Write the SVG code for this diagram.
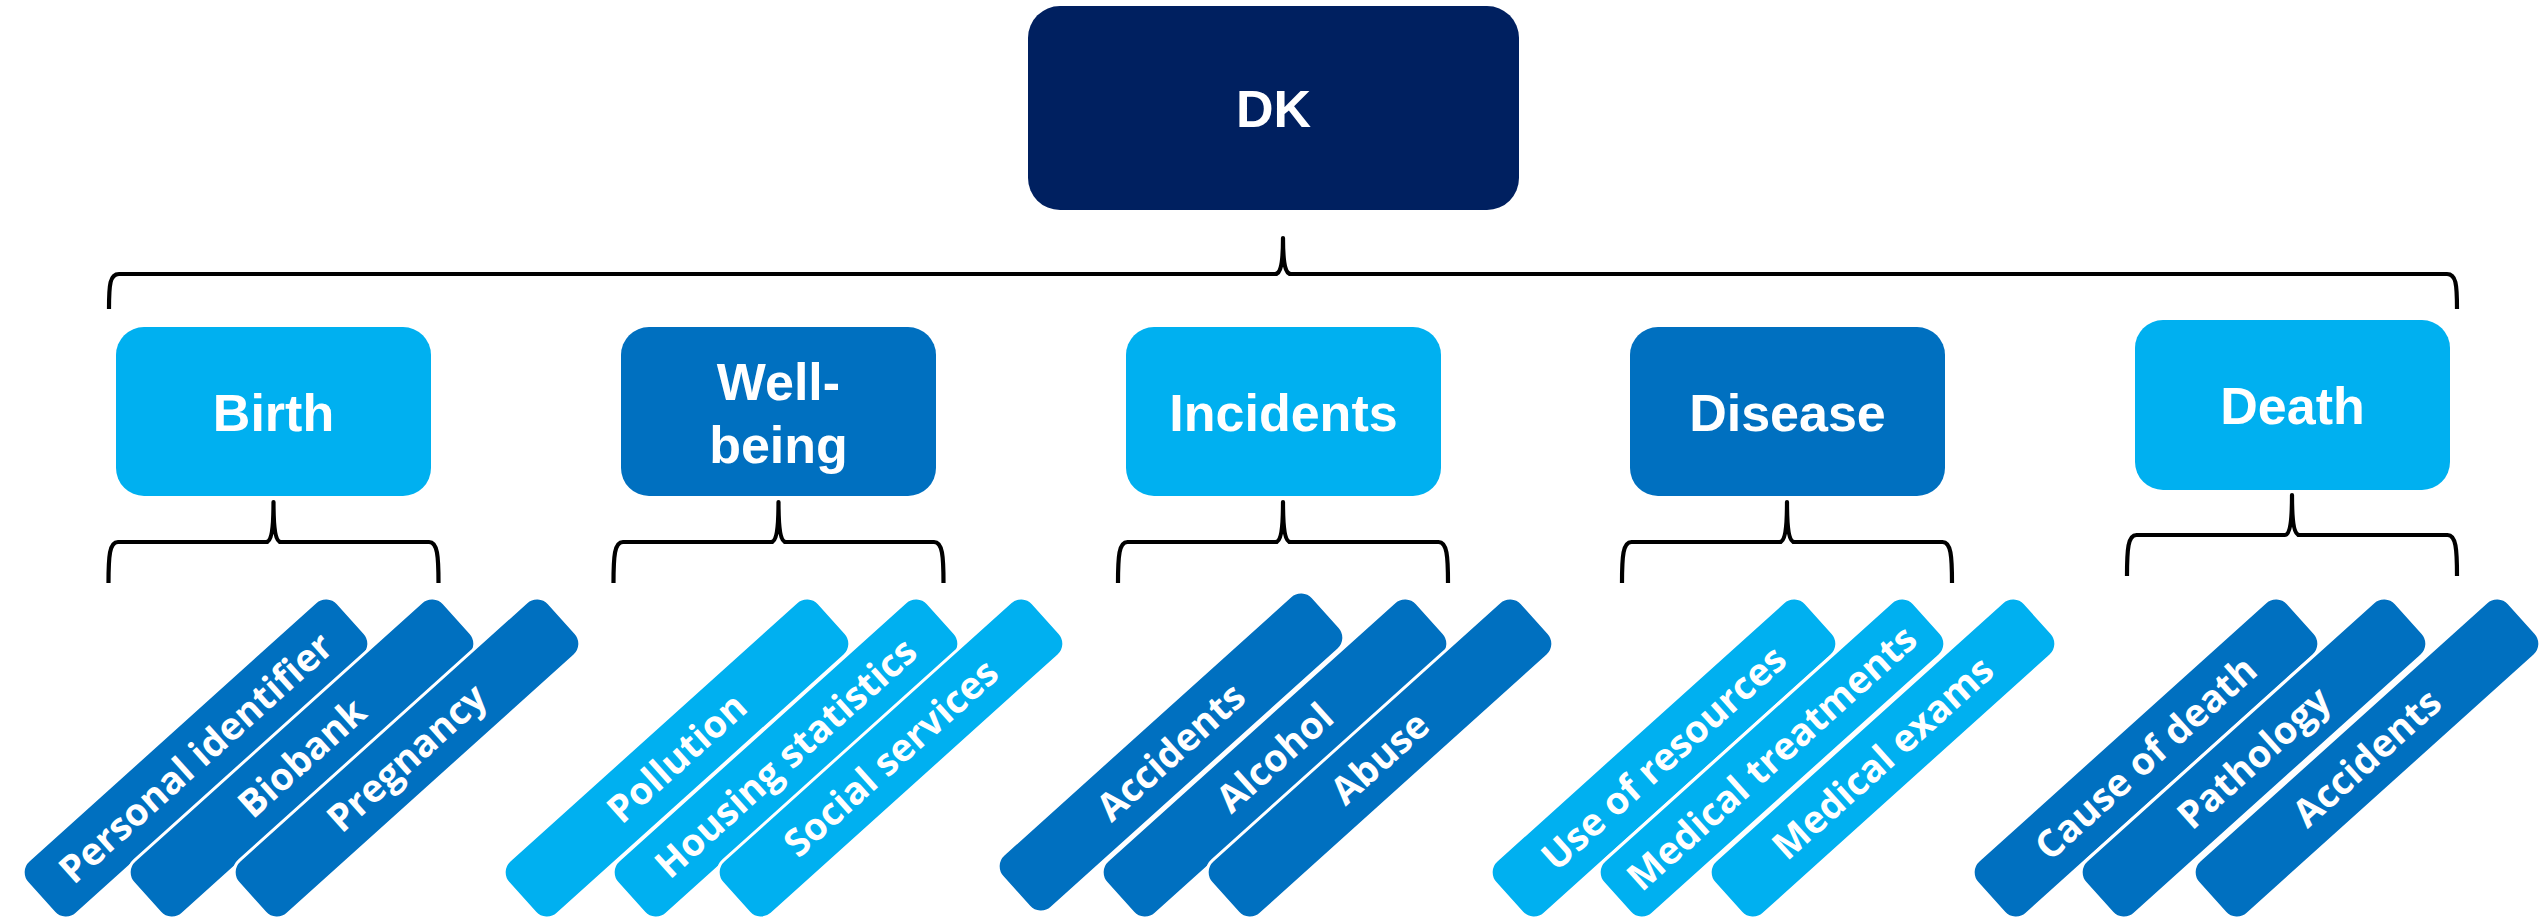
<svg xmlns="http://www.w3.org/2000/svg" width="2539" height="923" viewBox="0 0 2539 923">
<style>
.bg{fill:#FFFFFF}
.dark{fill:#002060}
.mid{fill:#0070C0}
.light{fill:#00B0F0}
.box-text{font-family:"Liberation Sans",Arial,sans-serif;font-weight:bold;font-size:52px;fill:#FFFFFF;text-anchor:middle}
.leaf{stroke:#FFFFFF;stroke-width:3}
.leaf-text{font-family:"Open Sans","DejaVu Sans",sans-serif;font-weight:bold;font-size:38px;fill:#FFFFFF;text-anchor:middle}
.brace{fill:none;stroke:#000000;stroke-width:4.2;stroke-linejoin:round;stroke-linecap:butt}
</style>
<defs>
<rect id="leafShape" x="-209" y="-36" width="418" height="72" rx="16" ry="16"/>
</defs>
<rect class="bg" x="0" y="0" width="2539" height="923"/>

<g id="connectors">
<path class="brace" d="M109,309 C109,284 110,274 119,274 L1275,274 C1281,274 1283,262 1283,238 C1283,262 1285,274 1291,274 L2447,274 C2456,274 2457,284 2457,309"/>
<path class="brace" d="M108.5,583 C108.5,556 109.5,542 118,542 L266,542 C271,542 273.5,530 273.5,502 C273.5,530 276,542 281,542 L429,542 C437.5,542 438.5,556 438.5,583"/>
<path class="brace" d="M613.5,583 C613.5,556 614.5,542 623,542 L771,542 C776,542 778.5,530 778.5,502 C778.5,530 781,542 786,542 L934,542 C942.5,542 943.5,556 943.5,583"/>
<path class="brace" d="M1118,583 C1118,556 1119,542 1127.5,542 L1275.5,542 C1280.5,542 1283,530 1283,502 C1283,530 1285.5,542 1290.5,542 L1438.5,542 C1447,542 1448,556 1448,583"/>
<path class="brace" d="M1622,583 C1622,556 1623,542 1631.5,542 L1779.5,542 C1784.5,542 1787,530 1787,502 C1787,530 1789.5,542 1794.5,542 L1942.5,542 C1951,542 1952,556 1952,583"/>
<path class="brace" d="M2127,576 C2127,549 2128,535 2136.5,535 L2284.5,535 C2289.5,535 2292,523 2292,495 C2292,523 2294.5,535 2299.5,535 L2447.5,535 C2456,535 2457,549 2457,576"/>
</g>

<g id="node-dk">
<rect class="dark" x="1028" y="6" width="491" height="204" rx="32" ry="32"/>
<text class="box-text" x="1273.5" y="127">DK</text>
</g>

<g id="node-birth">
<rect class="light" x="116" y="327" width="315" height="169" rx="28" ry="28"/>
<text class="box-text" x="273.5" y="431">Birth</text>
</g>
<g id="node-wellbeing">
<rect class="mid" x="621" y="327" width="315" height="169" rx="28" ry="28"/>
<text class="box-text" x="778.5" y="400">Well-</text>
<text class="box-text" x="778.5" y="463">being</text>
</g>
<g id="node-incidents">
<rect class="light" x="1126" y="327" width="315" height="169" rx="28" ry="28"/>
<text class="box-text" x="1283.5" y="431">Incidents</text>
</g>
<g id="node-disease">
<rect class="mid" x="1630" y="327" width="315" height="169" rx="28" ry="28"/>
<text class="box-text" x="1787.5" y="431">Disease</text>
</g>
<g id="node-death">
<rect class="light" x="2135" y="320" width="315" height="170" rx="28" ry="28"/>
<text class="box-text" x="2292.5" y="424">Death</text>
</g>

<g id="leaf-personal-identifier" transform="translate(196,758) rotate(-42)">
<use href="#leafShape" class="leaf mid"/>
<text class="leaf-text" x="0" y="13">Personal identifier</text>
</g>
<g id="leaf-biobank" transform="translate(302,758) rotate(-42)">
<use href="#leafShape" class="leaf mid"/>
<text class="leaf-text" x="0" y="13">Biobank</text>
</g>
<g id="leaf-pregnancy" transform="translate(407,758) rotate(-42)">
<use href="#leafShape" class="leaf mid"/>
<text class="leaf-text" x="0" y="13">Pregnancy</text>
</g>

<g id="leaf-pollution" transform="translate(677,758) rotate(-42)">
<use href="#leafShape" class="leaf light"/>
<text class="leaf-text" x="0" y="13">Pollution</text>
</g>
<g id="leaf-housing-statistics" transform="translate(786,758) rotate(-42)">
<use href="#leafShape" class="leaf light"/>
<text class="leaf-text" x="0" y="13">Housing statistics</text>
</g>
<g id="leaf-social-services" transform="translate(891,758) rotate(-42)">
<use href="#leafShape" class="leaf light"/>
<text class="leaf-text" x="0" y="13">Social services</text>
</g>

<g id="leaf-accidents-incidents" transform="translate(1171,752) rotate(-42)">
<use href="#leafShape" class="leaf mid"/>
<text class="leaf-text" x="0" y="13">Accidents</text>
</g>
<g id="leaf-alcohol" transform="translate(1275,758) rotate(-42)">
<use href="#leafShape" class="leaf mid"/>
<text class="leaf-text" x="0" y="13">Alcohol</text>
</g>
<g id="leaf-abuse" transform="translate(1380,758) rotate(-42)">
<use href="#leafShape" class="leaf mid"/>
<text class="leaf-text" x="0" y="13">Abuse</text>
</g>

<g id="leaf-use-of-resources" transform="translate(1664,758) rotate(-42)">
<use href="#leafShape" class="leaf light"/>
<text class="leaf-text" x="0" y="13">Use of resources</text>
</g>
<g id="leaf-medical-treatments" transform="translate(1772,758) rotate(-42)">
<use href="#leafShape" class="leaf light"/>
<text class="leaf-text" x="0" y="13">Medical treatments</text>
</g>
<g id="leaf-medical-exams" transform="translate(1883,758) rotate(-42)">
<use href="#leafShape" class="leaf light"/>
<text class="leaf-text" x="0" y="13">Medical exams</text>
</g>

<g id="leaf-cause-of-death" transform="translate(2146,758) rotate(-42)">
<use href="#leafShape" class="leaf mid"/>
<text class="leaf-text" x="0" y="13">Cause of death</text>
</g>
<g id="leaf-pathology" transform="translate(2254,758) rotate(-42)">
<use href="#leafShape" class="leaf mid"/>
<text class="leaf-text" x="0" y="13">Pathology</text>
</g>
<g id="leaf-accidents-death" transform="translate(2367,758) rotate(-42)">
<use href="#leafShape" class="leaf mid"/>
<text class="leaf-text" x="0" y="13">Accidents</text>
</g>
</svg>
